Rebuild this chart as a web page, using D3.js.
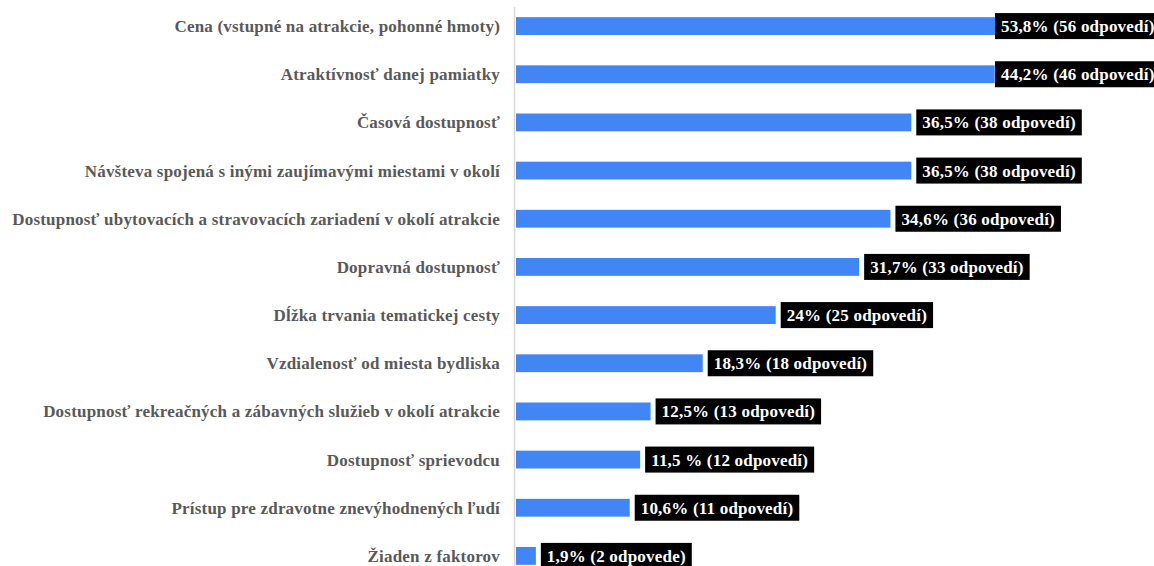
<!DOCTYPE html>
<html lang="sk">
<head>
<meta charset="utf-8">
<title>Faktory</title>
<style>
  html, body {margin: 0; padding: 0; background: #fff; overflow: hidden}
</style>
</head>
<body>
<svg id="chart" width="1154" height="566"></svg>
<script src="https://d3js.org/d3.v7.min.js"></script>
<script>

var categories = [
  "Cena (vstupné na atrakcie, pohonné hmoty)",
  "Atraktívnosť danej pamiatky",
  "Časová dostupnosť",
  "Návšteva spojená s inými zaujímavými miestami v okolí",
  "Dostupnosť ubytovacích a stravovacích zariadení v okolí atrakcie",
  "Dopravná dostupnosť",
  "Dĺžka trvania tematickej cesty",
  "Vzdialenosť od miesta bydliska",
  "Dostupnosť rekreačných a zábavných služieb v okolí atrakcie",
  "Dostupnosť sprievodcu",
  "Prístup pre zdravotne znevýhodnených ľudí",
  "Žiaden z faktorov"
];
var counts = [56, 46, 38, 38, 36, 33, 25, 18, 13, 12, 11, 2];
var valueLabels = [
  "53,8% (56 odpovedí)",
  "44,2% (46 odpovedí)",
  "36,5% (38 odpovedí)",
  "36,5% (38 odpovedí)",
  "34,6% (36 odpovedí)",
  "31,7% (33 odpovedí)",
  "24% (25 odpovedí)",
  "18,3% (18 odpovedí)",
  "12,5% (13 odpovedí)",
  "11,5 % (12 odpovedí)",
  "10,6% (11 odpovedí)",
  "1,9% (2 odpovede)"
];

var width = 1154, height = 566;
var svg = d3.select("#chart");
var font = "'Liberation Serif', 'Times New Roman', serif";

var x = d3.scaleLinear().domain([0, 56]).range([515, 1099]);
var y = d3.scaleBand().domain(categories).range([2, 580]).paddingInner(0.63).paddingOuter(0.315);
var labelMax = 995;

// vertical axis line
svg.append("line")
  .attr("x1", 514.5).attr("x2", 514.5)
  .attr("y1", 7).attr("y2", height)
  .attr("stroke", "#d9d9d9").attr("stroke-width", 1.5);

// category labels
svg.selectAll("text.cat")
  .data(categories)
  .join("text")
  .attr("class", "cat")
  .attr("x", 500)
  .attr("y", d => y(d) + y.bandwidth() / 2)
  .attr("dy", "0.35em")
  .attr("text-anchor", "end")
  .attr("font-family", font)
  .attr("font-weight", "bold")
  .attr("font-size", "17px")
  .attr("letter-spacing", "0.2px")
  .attr("fill", "#595959")
  .text(d => d);

// bars
svg.selectAll("rect.bar")
  .data(counts)
  .join("rect")
  .attr("class", "bar")
  .attr("x", x(0) + 1)
  .attr("y", (d, i) => y(categories[i]))
  .attr("width", d => x(d) - x(0) - 1)
  .attr("height", y.bandwidth())
  .attr("fill", "#4285f4");

// value labels in black boxes
var lab = svg.selectAll("g.lab")
  .data(counts)
  .join("g")
  .attr("class", "lab");

lab.each(function(d, i) {
  var g = d3.select(this);
  var cy = y(categories[i]) + y.bandwidth() / 2;
  var bx = Math.min(x(d) + 5, labelMax);
  var rect = g.append("rect").attr("fill", "#000");
  var t = g.append("text")
    .attr("x", bx + 6)
    .attr("y", cy)
    .attr("dy", "0.35em")
    .attr("font-family", font)
    .attr("font-weight", "bold")
    .attr("font-size", "17px")
    .attr("letter-spacing", "0.2px")
    .attr("fill", "#fff")
    .text(valueLabels[i]);
  var w = t.node().getComputedTextLength();
  rect.attr("x", bx).attr("y", cy - 13).attr("width", w + 12).attr("height", 26);
});

</script>
</body>
</html>
